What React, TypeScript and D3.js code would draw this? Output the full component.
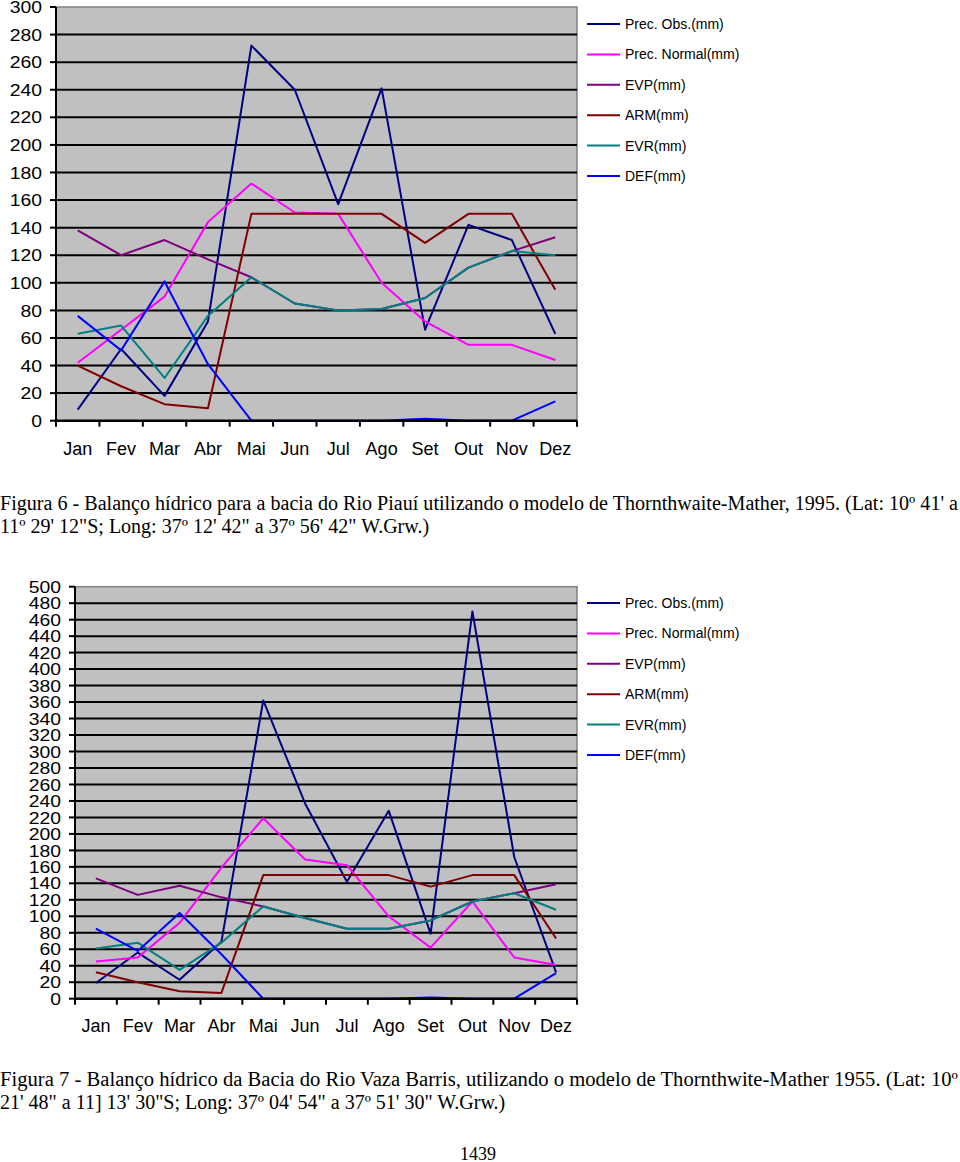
import * as d3 from 'd3'

// Balanço hídrico — duas figuras (Rio Piauí e Rio Vaza Barris), estilo Excel antigo
const months = ['Jan', 'Fev', 'Mar', 'Abr', 'Mai', 'Jun', 'Jul', 'Ago', 'Set', 'Out', 'Nov', 'Dez']
const seriesNames = ['Prec. Obs.(mm)', 'Prec. Normal(mm)', 'EVP(mm)', 'ARM(mm)', 'EVR(mm)', 'DEF(mm)']
const seriesColors = ['#000080', '#FF00FF', '#800080', '#800000', '#008080', '#0000FF']

// Figura 6 — Rio Piauí
const precObs6 = [8, 52, 18, 72, 272, 240, 157, 241, 66, 142, 131, 63]
const precNormal6 = [42, 66, 90, 144, 172, 151, 150, 100, 72, 55, 55, 44]
const evp6 = [138, 120, 131, 117, 104, 85, 80, 81, 89, 111, 123, 133]
const arm6 = [40, 25, 12, 9, 150, 150, 150, 150, 129, 150, 150, 95]
const evr6 = [63, 69, 31, 76, 104, 85, 80, 81, 89, 111, 123, 120]
const def6 = [76, 51, 101, 41, 0, 0, 0, 0, 1.5, 0, 0, 14]
const yTicks6 = d3.range(0, 301, 20)

// Figura 7 — Rio Vaza Barris
const precObs7 = [19, 56, 23, 69, 362, 237, 142, 228, 79, 470, 172, 32]
const precNormal7 = [45, 50, 92, 159, 219, 169, 162, 100, 62, 118, 50, 41]
const evp7 = [146, 126, 137, 123, 112, 98, 85, 85, 95, 118, 128, 139]
const arm7 = [32, 20, 9, 7, 150, 150, 150, 150, 136, 150, 150, 73]
const evr7 = [61, 68, 35, 68, 112, 98, 85, 85, 95, 118, 128, 108]
const def7 = [85, 58, 104, 54, 0, 0, 0, 0, 1.5, 0, 0, 31]
const yTicks7 = d3.range(0, 501, 20)

const caption6 = [
  "Figura 6 - Balanço hídrico para a bacia do Rio Piauí utilizando o modelo de Thornthwaite-Mather, 1995. (Lat: 10º 41' a",
  "11º 29' 12\"S; Long: 37º 12' 42\" a 37º 56' 42\" W.Grw.)",
]
const caption7 = [
  'Figura 7 - Balanço hídrico da Bacia do Rio Vaza Barris, utilizando o modelo de Thornthwite-Mather 1955. (Lat: 10º',
  "21' 48\" a 11] 13' 30\"S; Long: 37º 04' 54\" a 37º 51' 30\" W.Grw.)",
]

const SANS = 'Arial, "Liberation Sans", sans-serif'
const SERIF = '"Times New Roman", "Liberation Serif", serif'

type ChartProps = {
  series: number[][]
  yTicks: number[]
  left: number
  top: number
  right: number
  bottom: number
  monthY: number
  labelX: number
  legendTop: number
}

function Chart({ series, yTicks, left, top, right, bottom, monthY, labelX, legendTop }: ChartProps) {
  const x = d3.scaleBand().domain(months).range([left, right])
  const y = d3.scaleLinear().domain([0, d3.max(yTicks) as number]).range([bottom, top])
  const line = d3.line<number>()
    .x((_, i) => (x(months[i]) as number) + x.bandwidth() / 2)
    .y(d => y(d))
  const boundaries = months.map(m => x(m) as number).concat([right])

  return (
    <g>
      <rect x={left} y={top} width={right - left} height={bottom - top} fill="#C0C0C0" stroke="#808080" strokeWidth={1.5} />
      {yTicks.map(t => (
        <g key={t}>
          {t > 0 && t < yTicks[yTicks.length - 1] && (
            <line x1={left} x2={right} y1={y(t)} y2={y(t)} stroke="#000" strokeWidth={2} />
          )}
          <line x1={left - 6} x2={left} y1={y(t)} y2={y(t)} stroke="#000" strokeWidth={2} />
          <text transform={`translate(${labelX},${y(t)}) scale(1.14,1)`} dy="0.36em" textAnchor="end"
            fontFamily={SANS} fontSize={17} fill="#000">{t}</text>
        </g>
      ))}
      {series.map((vals, si) => (
        <path key={si} d={line(vals) ?? ''} fill="none" stroke={seriesColors[si]} strokeWidth={2} strokeLinejoin="round" />
      ))}
      <line x1={left} x2={left} y1={top} y2={bottom} stroke="#000" strokeWidth={2} />
      <line x1={left} x2={right} y1={bottom} y2={bottom} stroke="#000" strokeWidth={2.5} />
      {boundaries.map((bx, i) => (
        <line key={i} x1={bx} x2={bx} y1={bottom} y2={bottom + 6} stroke="#000" strokeWidth={2} />
      ))}
      {months.map(m => (
        <text key={m} x={(x(m) as number) + x.bandwidth() / 2} y={monthY} textAnchor="middle" fontFamily={SANS} fontSize={18} fill="#000">{m}</text>
      ))}
      {seriesNames.map((name, i) => (
        <g key={name} transform={`translate(587,${legendTop + i * 30.4})`}>
          <line x1={0} x2={33} y1={0} y2={0} stroke={seriesColors[i]} strokeWidth={2} />
          <text x={38} y={0} dy="0.36em" fontFamily={SANS} fontSize={14} fill="#000">{name}</text>
        </g>
      ))}
    </g>
  )
}

function Caption({ lines, y }: { lines: string[]; y: number }) {
  return (
    <g fontFamily={SERIF} fontSize={20} fill="#000">
      <text x={0} y={y} textLength={958} lengthAdjust="spacingAndGlyphs">{lines[0]}</text>
      <text x={0} y={y + 23}>{lines[1]}</text>
    </g>
  )
}

export default function App() {
  return (
    <svg width={960} height={1162} style={{ position: 'absolute', left: 0, top: 0, background: '#fff' }}>
      <Chart
        series={[precObs6, precNormal6, evp6, arm6, evr6, def6]}
        yTicks={yTicks6}
        left={56} top={7} right={577} bottom={420.7}
        monthY={455} labelX={42} legendTop={24}
      />
      <Caption lines={caption6} y={510} />
      <Chart
        series={[precObs7, precNormal7, evp7, arm7, evr7, def7]}
        yTicks={yTicks7}
        left={75} top={586.7} right={577} bottom={998.7}
        monthY={1032} labelX={61} legendTop={603}
      />
      <Caption lines={caption7} y={1086} />
      <text x={478} y={1160} textAnchor="middle" fontFamily={SERIF} fontSize={18} fill="#000">1439</text>
    </svg>
  )
}
